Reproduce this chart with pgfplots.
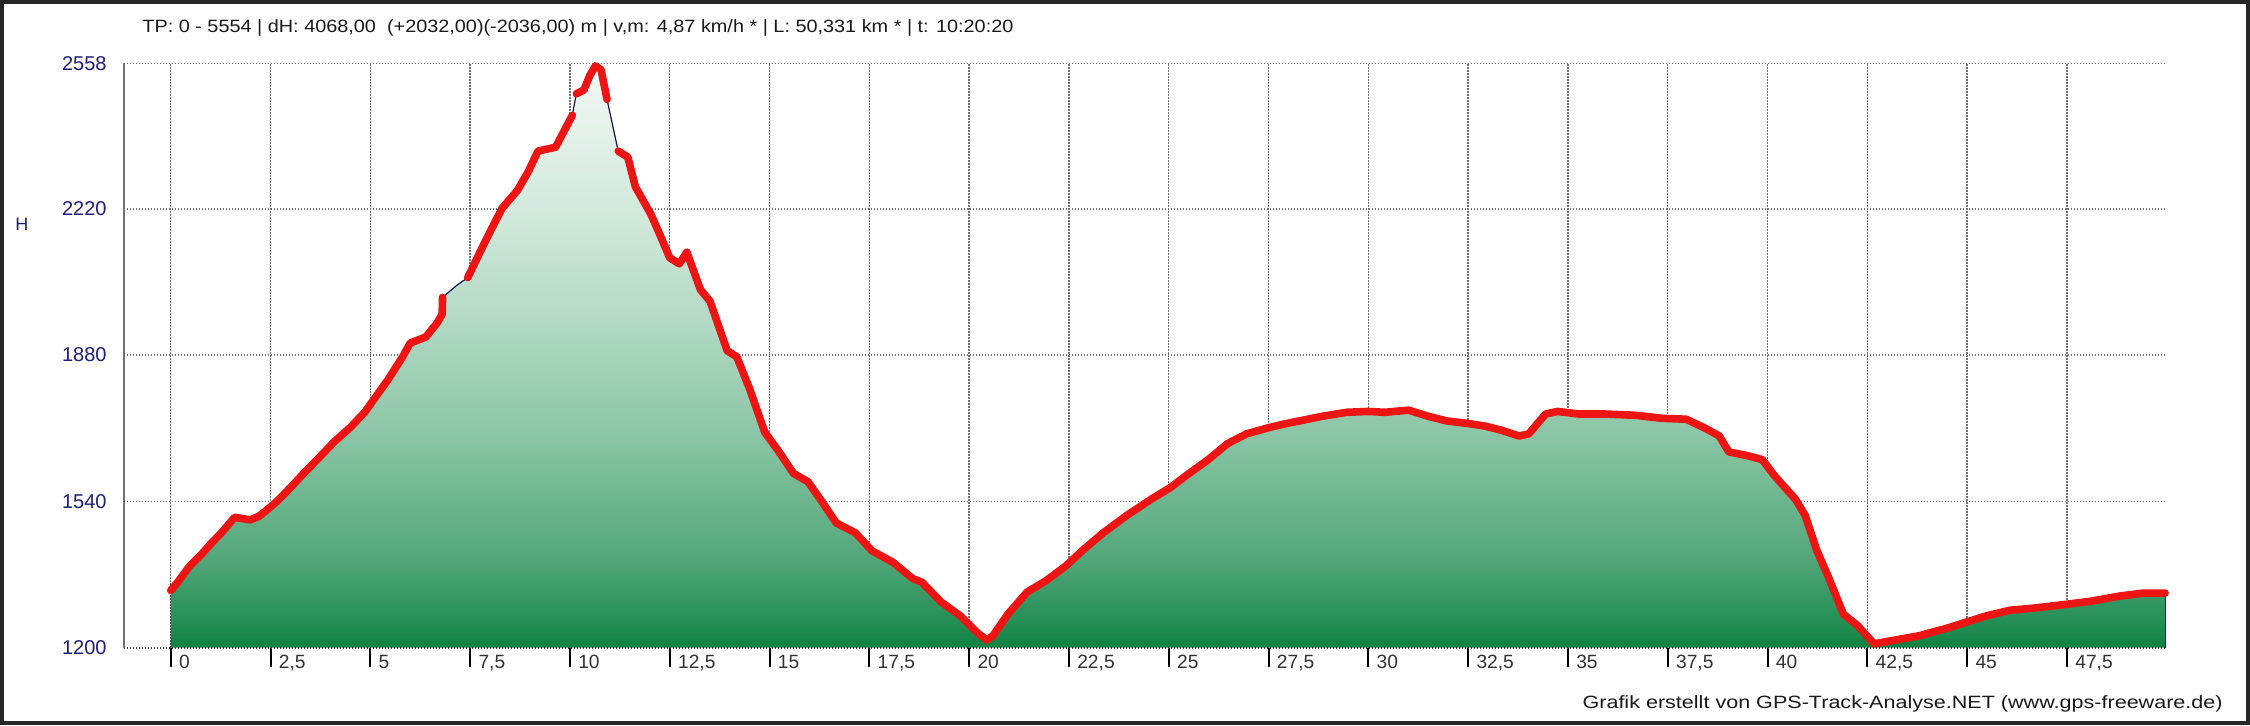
\documentclass[border=0pt]{standalone}
\usepackage{pgfplots}
\pgfplotsset{compat=1.18}
\usepackage{pgfplotstable}
\usepackage{fontspec}
\setmainfont{Liberation Sans}
\definecolor{g0}{HTML}{0F8142}
\definecolor{g1}{HTML}{279058}
\definecolor{g2}{HTML}{55A87C}
\definecolor{g3}{HTML}{8CC6A6}
\definecolor{g4}{HTML}{B0D8C2}
\definecolor{g5}{HTML}{D2E9DC}
\definecolor{g6}{HTML}{F2F8F4}
\definecolor{navyt}{HTML}{1E1E78}
\definecolor{redl}{HTML}{EE1414}
\definecolor{gridc}{HTML}{707070}
\pgfdeclareverticalshading{elev}{100bp}{color(0bp)=(g0); color(25bp)=(g0); color(27.5bp)=(g1); color(33bp)=(g2); color(43.5bp)=(g3); color(52.5bp)=(g4); color(62.5bp)=(g5); color(75bp)=(g6); color(100bp)=(g6)}

\pgfplotstableread{
km h
0 1333
0.2 1355
0.46 1388
0.75 1415
1.03 1444
1.3 1470
1.6 1503
1.8 1500
1.99 1497
2.2 1505
2.37 1517
2.66 1540
3.0 1572
3.33 1605
3.7 1640
4.09 1678
4.5 1712
4.86 1747
5.15 1785
5.43 1821
5.81 1876
6.0 1908
6.39 1922
6.67 1954
6.80 1975
6.81 2014
7.15 2041
7.44 2060
7.7 2110
7.92 2152
8.3 2221
8.68 2262
8.95 2305
9.2 2354
9.64 2363
9.85 2400
10.06 2437
10.16 2487
10.35 2496
10.5 2530
10.64 2552
10.78 2543
10.93 2474
11.21 2354
11.45 2340
11.64 2271
12.03 2207
12.3 2150
12.5 2106
12.74 2092
12.93 2119
13.27 2032
13.51 2005
13.94 1890
14.18 1876
14.5 1802
14.88 1701
15.24 1655
15.6 1605
15.96 1586
16.31 1540
16.67 1490
17.15 1467
17.57 1425
18.1 1398
18.58 1361
18.82 1352
19.3 1306
19.78 1274
20.2 1235
20.44 1218
20.6 1228
20.97 1278
21.45 1329
21.93 1356
22.41 1389
22.89 1430
23.36 1467
23.96 1508
24.56 1545
25.04 1572
25.51 1605
25.99 1637
26.47 1674
26.95 1697
27.49 1711
27.9 1720
28.38 1729
28.86 1738
29.46 1747
30.0 1749
30.41 1747
31.01 1752
31.49 1738
31.96 1727
32.5 1721
32.92 1715
33.31 1706
33.78 1692
34.02 1697
34.44 1743
34.74 1749
35.27 1743
35.93 1743
36.71 1740
37.36 1733
37.96 1731
38.44 1710
38.79 1692
39.03 1655
39.51 1646
39.87 1637
40.17 1600
40.70 1545
40.94 1508
41.24 1425
41.54 1361
41.9 1278
42.26 1251
42.67 1209
43.21 1218
43.81 1228
44.52 1246
45.0 1260
45.48 1274
46.07 1287
46.67 1292
47.5 1301
48.1 1308
48.82 1320
49.42 1327
49.96 1327
}\profile

\pgfplotstableread{
km h
0 1333
0.2 1355
0.46 1388
0.75 1415
1.03 1444
1.3 1470
1.6 1503
1.8 1500
1.99 1497
2.2 1505
2.37 1517
2.66 1540
3.0 1572
3.33 1605
3.7 1640
4.09 1678
4.5 1712
4.86 1747
5.15 1785
5.43 1821
5.81 1876
6.0 1908
6.39 1922
6.67 1954
6.80 1975
6.81 2014
7.0 nan
7.44 2060
7.7 2110
7.92 2152
8.3 2221
8.68 2262
8.95 2305
9.2 2354
9.64 2363
9.85 2400
10.06 2437
10.1 nan
10.16 2487
10.35 2496
10.5 2530
10.64 2552
10.78 2543
10.93 2474
11.0 nan
11.21 2354
11.45 2340
11.64 2271
12.03 2207
12.3 2150
12.5 2106
12.74 2092
12.93 2119
13.27 2032
13.51 2005
13.94 1890
14.18 1876
14.5 1802
14.88 1701
15.24 1655
15.6 1605
15.96 1586
16.31 1540
16.67 1490
17.15 1467
17.57 1425
18.1 1398
18.58 1361
18.82 1352
19.3 1306
19.78 1274
20.2 1235
20.44 1218
20.6 1228
20.97 1278
21.45 1329
21.93 1356
22.41 1389
22.89 1430
23.36 1467
23.96 1508
24.56 1545
25.04 1572
25.51 1605
25.99 1637
26.47 1674
26.95 1697
27.49 1711
27.9 1720
28.38 1729
28.86 1738
29.46 1747
30.0 1749
30.41 1747
31.01 1752
31.49 1738
31.96 1727
32.5 1721
32.92 1715
33.31 1706
33.78 1692
34.02 1697
34.44 1743
34.74 1749
35.27 1743
35.93 1743
36.71 1740
37.36 1733
37.96 1731
38.44 1710
38.79 1692
39.03 1655
39.51 1646
39.87 1637
40.17 1600
40.70 1545
40.94 1508
41.24 1425
41.54 1361
41.9 1278
42.26 1251
42.67 1209
43.21 1218
43.81 1228
44.52 1246
45.0 1260
45.48 1274
46.07 1287
46.67 1292
47.5 1301
48.1 1308
48.82 1320
49.42 1327
49.96 1327
}\redprof

\begin{document}
\begin{tikzpicture}
\useasboundingbox (0,0) rectangle (1125pt,362.5pt);
\fill[white] (0,0) rectangle (1125pt,362.5pt);
\begin{axis}[
  at={(62pt,38.65pt)}, anchor=south west,
  scale only axis, width=1020.5pt, height=292.2pt,
  xmin=-1.17, xmax=49.96, ymin=1200, ymax=2558,
  xtick={0,2.5,5,7.5,10,12.5,15,17.5,20,22.5,25,27.5,30,32.5,35,37.5,40,42.5,45,47.5},
  xticklabels={0,{2,5},5,{7,5},10,{12,5},15,{17,5},20,{22,5},25,{27,5},30,{32,5},35,{37,5},40,{42,5},45,{47,5}},
  ytick={1200,1540,1880,2220,2558},
  yticklabels={1200,1540,1880,2220,2558},
  tick pos=left,
  grid=major,
  major grid style={gridc, line width=0.75pt, dash pattern=on 0.7pt off 0.8pt},
  axis line style={draw=none},
  xtick align=outside, major tick length=9.5pt,
  xtick style={black, line width=1pt},
  ytick style={draw=none},
  xticklabel style={font=\fontsize{9.6}{10}\selectfont, text=black!80, anchor=base west, inner sep=0pt, xshift=4pt, yshift=-0.65pt},
  yticklabel style={font=\fontsize{10}{11}\selectfont, text=navyt, anchor=east, inner sep=0pt, xshift=-8.5pt},
  clip=false,
  unbounded coords=jump,
]
\addplot[shading=elev, draw=none] table[x=km, y=h] {\profile} -- (axis cs:49.96,1200) -- (axis cs:0,1200) -- cycle;
\draw[navyt, line width=0.6pt] (axis cs:49.96,1200) -- (axis cs:49.96,1327);
\draw[black!75, line width=0.7pt, dash pattern=on 0.7pt off 0.8pt] (axis cs:0,1200) -- (axis cs:0,1333);
\draw[black!75, line width=0.8pt, dash pattern=on 0.7pt off 0.8pt] (axis cs:-1.17,1200) -- (axis cs:49.96,1200);
\draw[gridc, line width=1pt] (axis cs:-1.17,1200) -- (axis cs:-1.17,2558);
\addplot[navyt!70!black, line width=0.6pt] table[x=km, y=h] {\profile};
\addplot[redl, line width=3.8pt, line join=round, line cap=round] table[x=km, y=h] {\redprof};
\end{axis}
\node[anchor=base west, inner sep=0pt, text=black!90] at (71pt,346.15pt) {\resizebox{435.5pt}{\height}{\fontsize{8.9pt}{10pt}\selectfont TP: 0 - 5554 | dH: 4068,00\ \ (+2032,00)(-2036,00) m | v,m: 4,87 km/h * | L: 50,331 km * | t: 10:20:20}};
\node[anchor=base east, inner sep=0pt, text=black!90] at (1111.5pt,8.5pt) {\resizebox{320pt}{\height}{\fontsize{8.9pt}{10pt}\selectfont Grafik erstellt von GPS-Track-Analyse.NET (www.gps-freeware.de)}};
\node[text=navyt, inner sep=0pt, font=\fontsize{9}{10}\selectfont] at (11pt,250.5pt) {H};
\draw[line width=2pt, black!85] (1pt,1pt) rectangle (1124pt,361.5pt);
\end{tikzpicture}
\end{document}
